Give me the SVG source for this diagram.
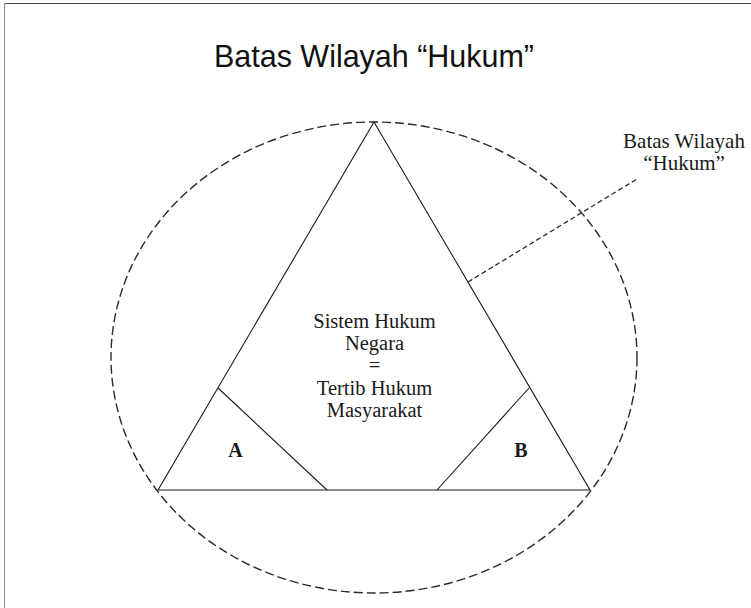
<svg xmlns="http://www.w3.org/2000/svg" width="751" height="608" viewBox="0 0 751 608">
<style>
.frame{stroke-width:1.2;fill:none}
.solid{stroke:#1a1a1a;stroke-width:1.1;fill:none}
.serif{font-family:"Liberation Serif","Times New Roman",serif;fill:#1a1a1a;text-anchor:middle}
.sans{font-family:"Liberation Sans",Arial,sans-serif;fill:#111;text-anchor:middle}
</style>
<rect width="751" height="608" fill="#ffffff"/>
<line class="frame" x1="4" y1="3.5" x2="751" y2="3.5" stroke="#4a4a4a"/>
<line class="frame" x1="4.5" y1="3" x2="4.5" y2="608" stroke="#9a9a9a"/>
<g id="title">
<text class="sans" x="374" y="67" font-size="32" textLength="320" lengthAdjust="spacingAndGlyphs">Batas Wilayah “Hukum”</text>
</g>
<g id="boundary">
<ellipse cx="374" cy="357.5" rx="263" ry="235.5" fill="none" stroke="#2a2a2a" stroke-width="1.4" stroke-dasharray="9 4"/>
</g>
<g id="triangle">
<polygon class="solid" points="374,122 158,490 590,490"/>
<text class="serif" x="374.5" y="328" font-size="20.5">Sistem Hukum</text>
<text class="serif" x="374.5" y="350" font-size="20.5">Negara</text>
<text class="serif" x="374.5" y="372" font-size="20.5">=</text>
<text class="serif" x="374.5" y="395" font-size="20.5">Tertib Hukum</text>
<text class="serif" x="374.5" y="417" font-size="20.5">Masyarakat</text>
</g>
<g id="regionA">
<line class="solid" x1="218" y1="388" x2="327" y2="490"/>
<text class="serif" x="235.5" y="457" font-size="20" font-weight="bold">A</text>
</g>
<g id="regionB">
<line class="solid" x1="437" y1="490" x2="529" y2="388"/>
<text class="serif" x="521" y="457" font-size="20" font-weight="bold">B</text>
</g>
<g id="label">
<text class="serif" x="684" y="148" font-size="21">Batas Wilayah</text>
<text class="serif" x="684" y="170" font-size="21">“Hukum”</text>
</g>
<g id="connectors">
<line x1="468" y1="282" x2="637" y2="179" stroke="#2a2a2a" stroke-width="1.3" stroke-dasharray="5 3"/>
</g>
</svg>
